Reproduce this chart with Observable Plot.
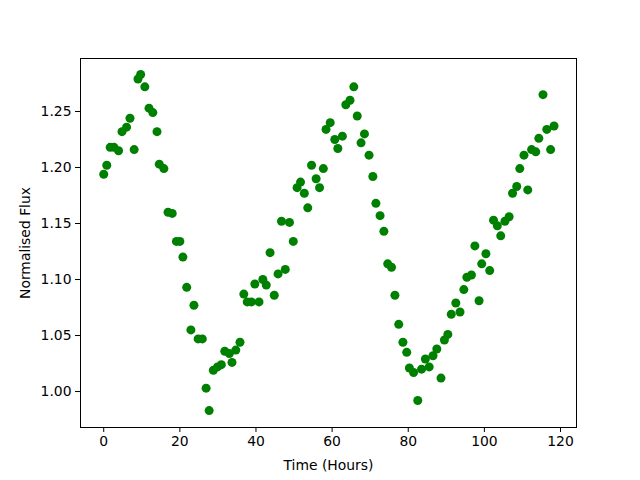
<!DOCTYPE html>
<html>
<head>
<meta charset="utf-8">
<script src="https://cdn.jsdelivr.net/npm/d3@7"></script>
<script src="https://cdn.jsdelivr.net/npm/@observablehq/plot@0.6"></script>
<style>
  html, body { margin: 0; padding: 0; background: #fff; }
</style>
</head>
<body>
<div id="chart"></div>
<script>
const hours = [
  0.0, 0.8, 1.7, 2.7, 3.9, 4.8, 6.0, 6.9, 8.0, 9.0,
  9.7, 10.8, 11.9, 12.9, 14.0, 14.6, 15.8, 16.9, 18.0, 19.1,
  20.0, 20.8, 21.8, 22.9, 23.7, 24.8, 25.9, 26.9, 27.7, 28.8,
  29.9, 30.9, 31.8, 33.0, 33.7, 34.7, 35.8, 36.8, 37.7, 38.8,
  39.7, 40.8, 41.8, 42.7, 43.7, 44.8, 45.8, 46.7, 47.7, 48.8,
  49.8, 50.8, 51.7, 52.7, 53.6, 54.6, 55.8, 56.7, 57.7, 58.4,
  59.5, 60.7, 61.5, 62.7, 63.6, 64.7, 65.7, 66.6, 67.6, 68.5,
  69.7, 70.7, 71.5, 72.6, 73.6, 74.6, 75.6, 76.5, 77.5, 78.6,
  79.6, 80.3, 81.4, 82.5, 83.5, 84.5, 85.5, 86.5, 87.5, 88.6,
  89.5, 90.4, 91.3, 92.5, 93.6, 94.6, 95.4, 96.6, 97.5, 98.6,
  99.3, 100.4, 101.4, 102.4, 103.4, 104.3, 105.4, 106.5, 107.4, 108.5,
  109.3, 110.4, 111.4, 112.4, 113.5, 114.3, 115.4, 116.4, 117.4, 118.3
];
const flux = [
  1.194, 1.202, 1.218, 1.218, 1.215, 1.232, 1.236, 1.244, 1.216, 1.279,
  1.283, 1.272, 1.253, 1.249, 1.232, 1.203, 1.199, 1.160, 1.159, 1.134,
  1.134, 1.120, 1.093, 1.055, 1.077, 1.047, 1.047, 1.003, 0.983, 1.019,
  1.022, 1.024, 1.036, 1.034, 1.026, 1.037, 1.044, 1.087, 1.080, 1.080,
  1.096, 1.080, 1.100, 1.095, 1.124, 1.086, 1.105, 1.152, 1.109, 1.151,
  1.134, 1.182, 1.187, 1.177, 1.164, 1.202, 1.190, 1.182, 1.199, 1.234,
  1.240, 1.225, 1.217, 1.228, 1.256, 1.260, 1.272, 1.246, 1.222, 1.230,
  1.211, 1.192, 1.168, 1.157, 1.143, 1.114, 1.111, 1.086, 1.060, 1.044,
  1.035, 1.021, 1.017, 0.992, 1.020, 1.029, 1.022, 1.032, 1.038, 1.012,
  1.046, 1.051, 1.069, 1.079, 1.071, 1.091, 1.102, 1.104, 1.130, 1.081,
  1.114, 1.123, 1.108, 1.153, 1.148, 1.139, 1.152, 1.156, 1.177, 1.183,
  1.199, 1.211, 1.180, 1.216, 1.214, 1.226, 1.265, 1.234, 1.216, 1.237
];
const xTicks = [0, 20, 40, 60, 80, 100, 120];
const yTicks = [1.00, 1.05, 1.10, 1.15, 1.20, 1.25];
const xLabel = "Time (Hours)";
const yLabel = "Normalised Flux";

const data = hours.map((h, i) => ({hour: h, flux: flux[i]}));

const chart = Plot.plot({
  width: 640,
  height: 480,
  marginLeft: 80,
  marginRight: 64,
  marginTop: 58,
  marginBottom: 53,
  style: {fontFamily: "DejaVu Sans", fontSize: "13.9px", color: "#000", background: "#fff"},
  x: {domain: [-6.1, 124.2]},
  y: {domain: [0.9679, 1.2973]},
  marks: [
    Plot.frame({stroke: "#000", strokeWidth: 1}),
    Plot.axisX({ticks: xTicks, tickSize: 5, tickPadding: 4, tickFormat: d => String(d),
      label: xLabel, labelAnchor: "center", labelArrow: "none", labelOffset: 42}),
    Plot.axisY({ticks: yTicks, tickSize: 5, tickPadding: 4, tickFormat: d3.format(".2f"),
      label: yLabel, labelAnchor: "center", labelArrow: "none", labelOffset: 60}),
    Plot.dot(data, {x: "hour", y: "flux", r: 4.5, fill: "#008000", stroke: "none"})
  ]
});
document.getElementById("chart").appendChild(chart);
</script>
</body>
</html>
